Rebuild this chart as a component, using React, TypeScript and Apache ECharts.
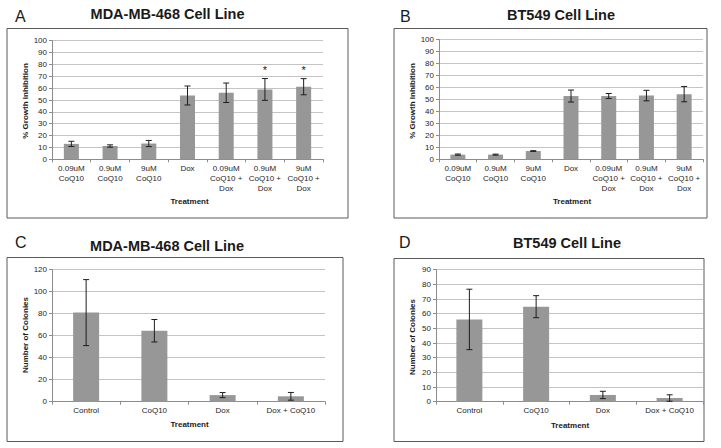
import React, { useEffect, useRef } from "react";
import * as echarts from "echarts";

// Panel A / B: growth inhibition
const growthCategories = [
  "0.09uM\nCoQ10",
  "0.9uM\nCoQ10",
  "9uM\nCoQ10",
  "Dox",
  "0.09uM\nCoQ10 +\nDox",
  "0.9uM\nCoQ10 +\nDox",
  "9uM\nCoQ10 +\nDox",
];
const mdaGrowthMean = [13, 11.2, 13.3, 53.8, 56.1, 58.9, 61.2];
const mdaGrowthErr = [2.2, 1, 2.6, 8, 8.2, 9.2, 6.8];
const mdaSignificance = [null, null, null, null, null, 75, 75];
const btGrowthMean = [3.9, 3.9, 6.9, 52.8, 52.8, 53.2, 54.4];
const btGrowthErr = [0.5, 0.4, 0.3, 5, 2.1, 4.4, 6.4];

// Panel C / D: colonies
const colonyCategories = ["Control", "CoQ10", "Dox", "Dox + CoQ10"];
const mdaColonyMean = [81, 64.5, 6, 4.9];
const mdaColonyErr = [30, 10.2, 2.3, 3.5];
const btColonyMean = [56.1, 64.8, 4.6, 2.5];
const btColonyErr = [20.6, 7.5, 2.5, 2.2];

const FONT = "Liberation Sans, Arial, sans-serif";
const TEXT = "#262626";
const BAR = "#979797";

const errorData = (mean: number[], err: number[]) =>
  mean.map((m, i) => [i, m - err[i], m + err[i]]);

const renderErr = (params: any, api: any) => {
  const x = api.value(0);
  const lo = api.coord([x, api.value(1)]);
  const hi = api.coord([x, api.value(2)]);
  const w = 3;
  const st = { stroke: "#1e1e1e", lineWidth: 1 };
  return {
    type: "group",
    children: [
      { type: "line", shape: { x1: hi[0], y1: hi[1], x2: lo[0], y2: lo[1] }, style: st },
      { type: "line", shape: { x1: hi[0] - w, y1: hi[1], x2: hi[0] + w, y2: hi[1] }, style: st },
      { type: "line", shape: { x1: lo[0] - w, y1: lo[1], x2: lo[0] + w, y2: lo[1] }, style: st },
    ],
  };
};

const renderStar = (params: any, api: any) => {
  const p = api.coord([api.value(0), api.value(1)]);
  return {
    type: "text",
    x: p[0],
    y: p[1],
    style: {
      text: "*",
      fill: "#1a1a1a",
      fontSize: 11,
      fontFamily: FONT,
      align: "center",
      verticalAlign: "middle",
    },
  };
};

const xAxisCfg = (idx: number, data: string[]) => ({
  type: "category",
  gridIndex: idx,
  data,
  boundaryGap: true,
  axisLine: { lineStyle: { color: "#8c8c8c", width: 1 } },
  axisTick: { show: true, length: 3, lineStyle: { color: "#8c8c8c" } },
  axisLabel: {
    interval: 0,
    margin: 4,
    fontSize: 8,
    lineHeight: 10,
    color: TEXT,
    fontFamily: FONT,
  },
  splitLine: { show: false },
});

const yAxisCfg = (idx: number, max: number, interval: number) => ({
  type: "value",
  gridIndex: idx,
  min: 0,
  max,
  interval,
  axisLine: { show: true, lineStyle: { color: "#8c8c8c", width: 1 } },
  axisTick: { show: true, length: 3, lineStyle: { color: "#8c8c8c" } },
  axisLabel: { margin: 5, fontSize: 8, color: TEXT, fontFamily: FONT },
  splitLine: { show: true, lineStyle: { color: "#c4c4c4", width: 1 } },
});

const txt = (
  text: string,
  x: number,
  y: number,
  size: number,
  weight: string,
  align = "center",
  rotation = 0
) => ({
  type: "text",
  x,
  y,
  rotation,
  z: 10,
  style: {
    text,
    fontSize: size,
    fontWeight: weight,
    fontFamily: FONT,
    fill: "#1a1a1a",
    align,
    verticalAlign: "middle",
  },
});

const box = (x: number, y: number, w: number, h: number) => ({
  type: "rect",
  shape: { x, y, width: w, height: h },
  style: { fill: "none", stroke: "#5a5a5a", lineWidth: 1 },
  z: 0,
});

export default function App() {
  const ref = useRef<HTMLDivElement>(null);
  useEffect(() => {
    if (!ref.current) return;
    const chart = echarts.init(ref.current, undefined, { renderer: "svg" });
    const option: any = {
      animation: false,
      backgroundColor: "#ffffff",
      grid: [
        { left: 52, top: 40.7, width: 271, height: 118.6 },
        { left: 439, top: 39.5, width: 264, height: 119.8 },
        { left: 52, top: 269.7, width: 273, height: 132 },
        { left: 436, top: 269.7, width: 267, height: 132 },
      ],
      xAxis: [
        xAxisCfg(0, growthCategories),
        xAxisCfg(1, growthCategories),
        xAxisCfg(2, colonyCategories),
        xAxisCfg(3, colonyCategories),
      ],
      yAxis: [
        yAxisCfg(0, 100, 10),
        yAxisCfg(1, 100, 10),
        yAxisCfg(2, 120, 20),
        yAxisCfg(3, 90, 10),
      ],
      series: [
        { type: "bar", xAxisIndex: 0, yAxisIndex: 0, data: mdaGrowthMean, barWidth: 15, itemStyle: { color: BAR } },
        { type: "bar", xAxisIndex: 1, yAxisIndex: 1, data: btGrowthMean, barWidth: 15, itemStyle: { color: BAR } },
        { type: "bar", xAxisIndex: 2, yAxisIndex: 2, data: mdaColonyMean, barWidth: 26, itemStyle: { color: BAR } },
        { type: "bar", xAxisIndex: 3, yAxisIndex: 3, data: btColonyMean, barWidth: 26, itemStyle: { color: BAR } },
        { type: "custom", xAxisIndex: 0, yAxisIndex: 0, renderItem: renderErr, data: errorData(mdaGrowthMean, mdaGrowthErr), encode: { x: 0, y: [1, 2] }, z: 5 },
        { type: "custom", xAxisIndex: 1, yAxisIndex: 1, renderItem: renderErr, data: errorData(btGrowthMean, btGrowthErr), encode: { x: 0, y: [1, 2] }, z: 5 },
        { type: "custom", xAxisIndex: 2, yAxisIndex: 2, renderItem: renderErr, data: errorData(mdaColonyMean, mdaColonyErr), encode: { x: 0, y: [1, 2] }, z: 5 },
        { type: "custom", xAxisIndex: 3, yAxisIndex: 3, renderItem: renderErr, data: errorData(btColonyMean, btColonyErr), encode: { x: 0, y: [1, 2] }, z: 5 },
        {
          type: "custom",
          xAxisIndex: 0,
          yAxisIndex: 0,
          renderItem: renderStar,
          data: mdaSignificance.map((v, i) => (v == null ? null : [i, v])).filter((d) => d),
          encode: { x: 0, y: 1 },
          z: 6,
        },
      ],
      graphic: [
        box(7, 28.5, 341, 189.5),
        box(394, 28.5, 313, 189.5),
        box(7, 257.5, 336, 184),
        box(394, 258.5, 310, 183),
        txt("A", 15, 16, 16, "normal", "left"),
        txt("B", 400, 16, 16, "normal", "left"),
        txt("C", 15, 242, 16, "normal", "left"),
        txt("D", 399, 242, 16, "normal", "left"),
        txt("MDA-MB-468 Cell Line", 167.5, 14, 14.5, "bold"),
        txt("BT549 Cell Line", 561, 15, 14.5, "bold"),
        txt("MDA-MB-468 Cell Line", 167, 245.5, 14.5, "bold"),
        txt("BT549 Cell Line", 567, 242.5, 14.5, "bold"),
        txt("% Growth Inhibition", 25, 101, 8, "bold", "center", Math.PI / 2),
        txt("% Growth Inhibition", 412, 101, 8, "bold", "center", Math.PI / 2),
        txt("Number of Colonies", 25, 335, 8, "bold", "center", Math.PI / 2),
        txt("Number of Colonies", 412, 337, 8, "bold", "center", Math.PI / 2),
        txt("Treatment", 189.5, 201, 8, "bold"),
        txt("Treatment", 572, 201, 8, "bold"),
        txt("Treatment", 189.5, 424.5, 8, "bold"),
        txt("Treatment", 570, 425, 8, "bold"),
      ],
    };
    chart.setOption(option);
    return () => chart.dispose();
  }, []);
  return (
    <div
      ref={ref}
      style={{ position: "fixed", left: 0, top: 0, width: 721, height: 448, background: "#fff" }}
    />
  );
}
